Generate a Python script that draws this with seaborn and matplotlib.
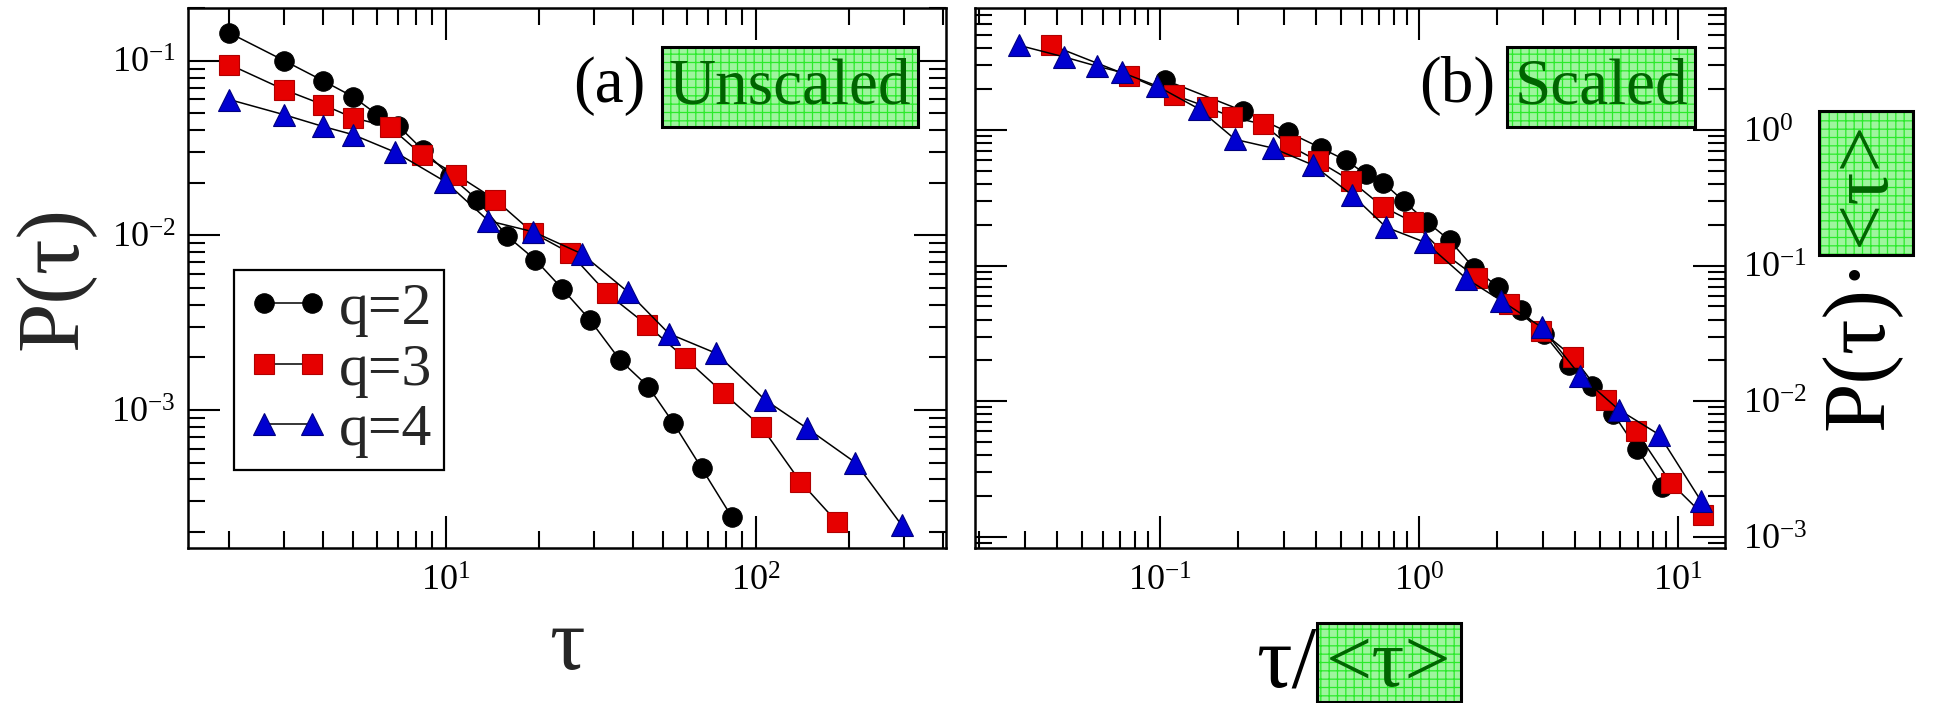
import numpy as np
import pandas as pd
import matplotlib
matplotlib.use("Agg")
import matplotlib.pyplot as plt
from matplotlib.patches import Rectangle
from matplotlib.ticker import LogLocator, FuncFormatter, NullFormatter
import seaborn as sns

# ---------------------------------------------------------------
# Waiting-time distributions P(tau) for q = 2, 3, 4
# ---------------------------------------------------------------
tau_q2 = [1, 2, 3, 4, 5, 6, 7, 8.4, 10.3, 12.6, 15.7, 19.4, 23.7, 29.1,
          36.4, 44.9, 54.1, 66.8, 83.5]
p_q2 = [0.243, 0.144, 0.100, 0.0768, 0.0622, 0.0490, 0.0424, 0.0309, 0.0219,
        0.0160, 0.00993, 0.00724, 0.00494, 0.00328, 0.00193, 0.00136,
        0.000842, 0.000463, 0.000244]

tau_q3 = [1, 2, 3, 4, 5, 6.6, 8.35, 10.8, 14.4, 19.1, 25.1, 33.0, 44.4, 59.0,
          78.4, 104, 139, 182, 248, 330]
p_q3 = [0.160, 0.0949, 0.0682, 0.0560, 0.0471, 0.0416, 0.0289, 0.0222,
        0.0160, 0.0103, 0.00791, 0.00466, 0.00307, 0.00198, 0.00125,
        0.000802, 0.000388, 0.000229, 0.0000948, 0.0000554]

tau_q4 = [2, 3, 4, 5, 6.85, 9.93, 13.7, 19.1, 27.4, 38.7, 52.4, 74.3, 107,
          146, 209, 295, 415, 594, 864]
p_q4 = [0.0598, 0.0490, 0.0420, 0.0377, 0.0299, 0.0203, 0.0121, 0.01047,
        0.00783, 0.00472, 0.00273, 0.00211, 0.00114, 0.000785, 0.000500,
        0.000219, 0.0001235, 0.0000809, 0.0000261]

# mean waiting time <tau> of each model, used for the collapse
mean_tau = {2: 9.6, 3: 26.4, 4: 70.2}

q_values = [2, 3, 4]
labels = ["q=2", "q=3", "q=4"]

frames = []
for q, t, p in zip(q_values, [tau_q2, tau_q3, tau_q4], [p_q2, p_q3, p_q4]):
    d = pd.DataFrame({"tau": t, "P": p})
    d["q"] = q
    d["tau_s"] = d["tau"] / mean_tau[q]
    d["P_s"] = d["P"] * mean_tau[q]
    frames.append(d)
df = pd.concat(frames, ignore_index=True)

# ---------------------------------------------------------------
# Style
# ---------------------------------------------------------------
sns.set_theme(style="ticks")
plt.rcParams["font.family"] = ["Liberation Serif", "DejaVu Serif"]
plt.rcParams["mathtext.fontset"] = "custom"
plt.rcParams["mathtext.rm"] = "Liberation Serif"
plt.rcParams["mathtext.it"] = "Liberation Serif:italic"
plt.rcParams["mathtext.bf"] = "Liberation Serif:bold"
plt.rcParams["hatch.linewidth"] = 0.9

W, H = 1935, 703
fig = plt.figure(figsize=(W / 100, H / 100), dpi=100)
fig.patch.set_facecolor("white")


def fx(px):
    return px / W


def fy(py):
    return 1 - py / H


ax_a = fig.add_axes([fx(188), fy(548), (946 - 188) / W, (548 - 8) / H])
ax_b = fig.add_axes([fx(975), fy(548), (1725 - 975) / W, (548 - 8) / H])

xlim_a, ylim_a = (1.47, 410), (1.62e-4, 0.2)
xlim_b, ylim_b = (0.0193, 15.2), (8.3e-4, 7.9)

styles = {
    2: dict(marker="o", markersize=14, markerfacecolor="#000000",
            markeredgecolor="#000000"),
    3: dict(marker="s", markersize=14.5, markerfacecolor="#e60000",
            markeredgecolor="#b00000"),
    4: dict(marker="^", markersize=16, markerfacecolor="#0000d0",
            markeredgecolor="#000080"),
}

for q, lab in zip(q_values, labels):
    d = df[df["q"] == q]
    inside_a = d[(d.tau >= xlim_a[0]) & (d.tau <= xlim_a[1]) &
                 (d.P >= ylim_a[0]) & (d.P <= ylim_a[1])]
    inside_b = d[(d.tau_s >= xlim_b[0]) & (d.tau_s <= xlim_b[1]) &
                 (d.P_s >= ylim_b[0]) & (d.P_s <= ylim_b[1])]
    sns.lineplot(data=inside_a, x="tau", y="P", ax=ax_a, color="black",
                 linewidth=1.1, markeredgewidth=0.8, estimator=None,
                 sort=False, label=lab, **styles[q])
    sns.lineplot(data=inside_b, x="tau_s", y="P_s", ax=ax_b, color="black",
                 linewidth=1.1, markeredgewidth=0.8, estimator=None,
                 sort=False, legend=False, **styles[q])

decade_fmt = FuncFormatter(lambda v, pos: r"$10^{%d}$" % int(round(np.log10(v))))

for ax, xl, yl in ((ax_a, xlim_a, ylim_a), (ax_b, xlim_b, ylim_b)):
    ax.set_xscale("log")
    ax.set_yscale("log")
    ax.set_xlim(*xl)
    ax.set_ylim(*yl)
    ax.set_facecolor("white")
    for axis in (ax.xaxis, ax.yaxis):
        axis.set_major_locator(LogLocator(base=10, numticks=20))
        axis.set_minor_locator(LogLocator(base=10, subs=np.arange(2, 10), numticks=20))
        axis.set_major_formatter(decade_fmt)
        axis.set_minor_formatter(NullFormatter())
    ax.tick_params(which="both", direction="in", top=True, bottom=True,
                   left=True, right=True, width=1.5, color="black",
                   labelcolor="black")
    ax.tick_params(which="major", length=23, labelsize=26)
    ax.tick_params(which="minor", length=12)
    ax.tick_params(axis="x", which="major", pad=13)
    for s in ax.spines.values():
        s.set_linewidth(1.8)
        s.set_color("black")
        s.set_visible(True)
    ax.set_xlabel("")
    ax.set_ylabel("")

ax_a.tick_params(axis="y", which="major", pad=9)
ax_b.tick_params(axis="y", which="major", pad=13, labelleft=False,
                 labelright=True)

# axis titles of the unscaled panel
ax_a.set_ylabel("P(τ)", fontsize=64, va="center")
ax_a.yaxis.set_label_coords(-0.176, 0.5)
ax_a.set_xlabel("τ", fontsize=64, va="center")
ax_a.xaxis.set_label_coords(0.5, -0.185)

leg = ax_a.legend(loc="upper left", bbox_to_anchor=(0.0607, 0.5148),
                  frameon=True, fancybox=False, edgecolor="black",
                  framealpha=1, fontsize=43, handlelength=1.4,
                  handletextpad=0.15, borderpad=0.2, labelspacing=0.1,
                  borderaxespad=0, numpoints=2)
leg.get_frame().set_linewidth(1.6)

# ---------------------------------------------------------------
# Highlighted captions
# ---------------------------------------------------------------
BOX_FILL = "#9ef59e"
BOX_GRID = "#2bea2b"
TEXT_GREEN = "#006400"


def green_box(x0, y0, x1, y1):
    xy = (fx(x0), fy(y1))
    w, h = fx(x1) - fx(x0), fy(y0) - fy(y1)
    fig.add_artist(Rectangle(xy, w, h, transform=fig.transFigure,
                             facecolor=BOX_FILL, edgecolor=BOX_GRID,
                             hatch="++", linewidth=0, zorder=5))
    fig.add_artist(Rectangle(xy, w, h, transform=fig.transFigure,
                             facecolor="none", edgecolor="black",
                             linewidth=2.2, zorder=6))


fig.text(fx(645), fy(102), "(a)", fontsize=47, ha="right", va="baseline",
         color="black", zorder=7)
green_box(662, 47, 918, 127)
fig.text(fx(790), fy(103), "Unscaled", fontsize=47, ha="center",
         va="baseline", color=TEXT_GREEN, zorder=7)

fig.text(fx(1495), fy(102), "(b)", fontsize=47, ha="right", va="baseline",
         color="black", zorder=7)
green_box(1507, 47, 1695, 127)
fig.text(fx(1601), fy(103), "Scaled", fontsize=47, ha="center",
         va="baseline", color=TEXT_GREEN, zorder=7)

# x title of the scaled panel: tau / <tau>
fig.text(fx(1316), fy(686), "τ/", fontsize=64, ha="right", va="baseline",
         color="black", zorder=7)
green_box(1317, 623, 1461, 702)
fig.text(fx(1389), fy(686), "<τ>", fontsize=59, ha="center",
         va="baseline", color=TEXT_GREEN, zorder=7)

# y title of the scaled panel: P(tau) . <tau>
fig.text(fx(1882), fy(430), "P(τ)·", fontsize=64, rotation=90,
         rotation_mode="anchor", ha="left", va="baseline", color="black",
         zorder=7)
green_box(1819, 111, 1913, 255)
fig.text(fx(1884), fy(183), "<τ>", fontsize=59, rotation=90,
         rotation_mode="anchor", ha="center", va="baseline",
         color=TEXT_GREEN, zorder=7)

fig.savefig("out.png", dpi=100, facecolor="white")
